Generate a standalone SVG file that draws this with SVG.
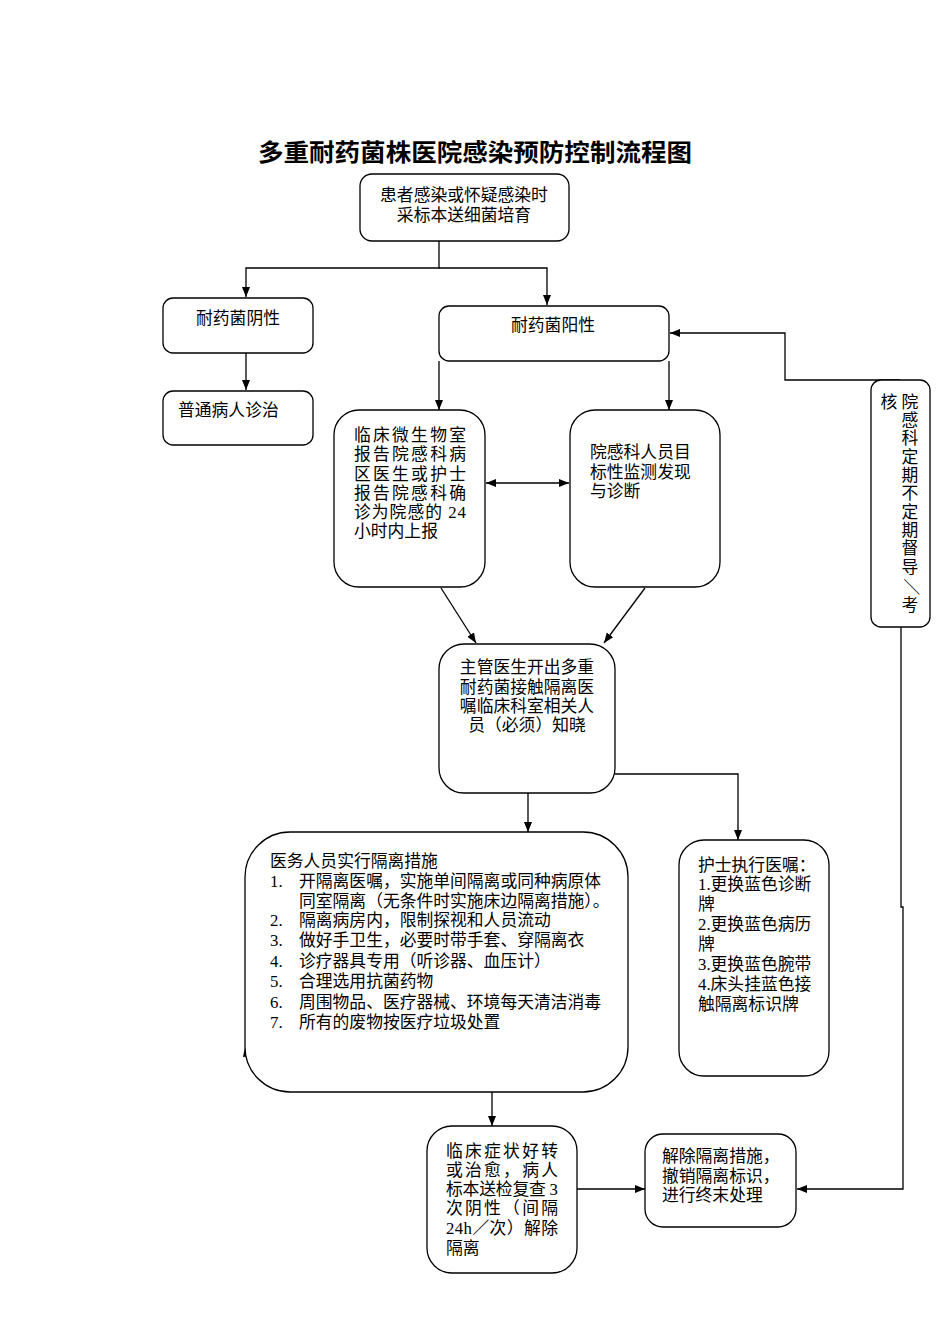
<svg xmlns="http://www.w3.org/2000/svg" width="950" height="1344" viewBox="0 0 950 1344">
<defs>
<marker id="ah" viewBox="0 0 10 10" refX="10" refY="5" markerWidth="10" markerHeight="10" markerUnits="userSpaceOnUse" orient="auto-start-reverse">
<path d="M0,1 L10,5 L0,9 Z" fill="#000"/>
</marker>
</defs>
<style>
.box{fill:#fff;stroke:#000;stroke-width:1.3}
.t{font-family:"Liberation Serif","Noto Sans CJK SC",serif;font-size:16.8px;fill:#000}
.c{text-anchor:middle}
.ln{fill:none;stroke:#000;stroke-width:1.3}
.title{font-family:"Noto Sans CJK SC","Liberation Sans",sans-serif;font-size:24px;font-weight:bold;fill:#000}
</style>
<rect width="950" height="1344" fill="#fff"/>
<text class="title" x="258" y="161" textLength="434" lengthAdjust="spacingAndGlyphs">多重耐药菌株医院感染预防控制流程图</text>

<g id="connectors">
<path class="ln" d="M439,241 V268 H246 V297" marker-end="url(#ah)"/>
<path class="ln" d="M439,268 H547 V305" marker-end="url(#ah)"/>
<path class="ln" d="M246,353 V390" marker-end="url(#ah)"/>
<path class="ln" d="M439,361 V410" marker-end="url(#ah)"/>
<path class="ln" d="M669,361 V410" marker-end="url(#ah)"/>
<path class="ln" d="M486,483 H569" marker-start="url(#ah)" marker-end="url(#ah)"/>
<path class="ln" d="M441,588 L476,643" marker-end="url(#ah)"/>
<path class="ln" d="M645,588 L604,643" marker-end="url(#ah)"/>
<path class="ln" d="M615,774 H738 V840" marker-end="url(#ah)"/>
<path class="ln" d="M528,793 V832" marker-end="url(#ah)"/>
<path class="ln" d="M492,1092 V1126" marker-end="url(#ah)"/>
<path class="ln" d="M577,1189 H645" marker-end="url(#ah)"/>
<path class="ln" d="M900,380 H785 V333 H670" marker-end="url(#ah)"/>
<path class="ln" d="M901,627 V907 H903 V1189 H797" marker-end="url(#ah)"/>
<path d="M243,1057 L251,1056 L245,1047 Z" fill="#000"/>
</g>

<g id="n1">
<rect class="box" x="360" y="174" width="209" height="67" rx="12"/>
<text class="t c" x="464" y="201">患者感染或怀疑感染时</text>
<text class="t c" x="464" y="221">采标本送细菌培育</text>
</g>

<g id="n2">
<rect class="box" x="163" y="298" width="150" height="55" rx="10"/>
<text class="t c" x="238" y="324">耐药菌阴性</text>
</g>

<g id="n3">
<rect class="box" x="163" y="391" width="150" height="54" rx="10"/>
<text class="t" x="178" y="416">普通病人诊治</text>
</g>

<g id="n4">
<rect class="box" x="439" y="306" width="230" height="55" rx="10"/>
<text class="t c" x="553" y="331">耐药菌阳性</text>
</g>

<g id="n5">
<rect class="box" x="334" y="410" width="151" height="177" rx="25"/>
<text class="t" x="354" y="441" textLength="112" lengthAdjust="spacing">临床微生物室</text>
<text class="t" x="354" y="460" textLength="112" lengthAdjust="spacing">报告院感科病</text>
<text class="t" x="354" y="480" textLength="112" lengthAdjust="spacing">区医生或护士</text>
<text class="t" x="354" y="499" textLength="112" lengthAdjust="spacing">报告院感科确</text>
<text class="t" x="354" y="518" textLength="112" lengthAdjust="spacing">诊为院感的 24</text>
<text class="t" x="354" y="537">小时内上报</text>
</g>

<g id="n6">
<rect class="box" x="570" y="410" width="150" height="177" rx="25"/>
<text class="t" x="590" y="458">院感科人员目</text>
<text class="t" x="590" y="478">标性监测发现</text>
<text class="t" x="590" y="497">与诊断</text>
</g>

<g id="n7">
<rect class="box" x="439" y="644" width="176" height="149" rx="25"/>
<text class="t c" x="527" y="673">主管医生开出多重</text>
<text class="t c" x="527" y="693">耐药菌接触隔离医</text>
<text class="t c" x="527" y="712">嘱临床科室相关人</text>
<text class="t c" x="527" y="731">员（必须）知晓</text>
</g>

<g id="n8">
<rect class="box" x="245" y="832" width="383" height="260" rx="45"/>
<text class="t" x="270" y="867">医务人员实行隔离措施</text>
<text class="t" x="270" y="887">1.</text><text class="t" x="299" y="887">开隔离医嘱，实施单间隔离或同种病原体</text>
<text class="t" x="299" y="907">同室隔离（无条件时实施床边隔离措施）。</text>
<text class="t" x="270" y="926">2.</text><text class="t" x="299" y="926">隔离病房内，限制探视和人员流动</text>
<text class="t" x="270" y="946">3.</text><text class="t" x="299" y="946">做好手卫生，必要时带手套、穿隔离衣</text>
<text class="t" x="270" y="967">4.</text><text class="t" x="299" y="967">诊疗器具专用（听诊器、血压计）</text>
<text class="t" x="270" y="987">5.</text><text class="t" x="299" y="987">合理选用抗菌药物</text>
<text class="t" x="270" y="1008">6.</text><text class="t" x="299" y="1008">周围物品、医疗器械、环境每天清洁消毒</text>
<text class="t" x="270" y="1028">7.</text><text class="t" x="299" y="1028">所有的废物按医疗垃圾处置</text>
</g>

<g id="n9">
<rect class="box" x="679" y="840" width="150" height="236" rx="25"/>
<text class="t" x="698" y="871">护士执行医嘱：</text>
<text class="t" x="698" y="890">1.更换蓝色诊断</text>
<text class="t" x="698" y="910">牌</text>
<text class="t" x="698" y="930">2.更换蓝色病历</text>
<text class="t" x="698" y="950">牌</text>
<text class="t" x="698" y="970">3.更换蓝色腕带</text>
<text class="t" x="698" y="990">4.床头挂蓝色接</text>
<text class="t" x="698" y="1010">触隔离标识牌</text>
</g>

<g id="n10">
<rect class="box" x="427" y="1126" width="150" height="147" rx="25"/>
<text class="t" x="446" y="1157" textLength="112" lengthAdjust="spacing">临床症状好转</text>
<text class="t" x="446" y="1176" textLength="112" lengthAdjust="spacing">或治愈，病人</text>
<text class="t" x="446" y="1195" textLength="112" lengthAdjust="spacing">标本送检复查 3</text>
<text class="t" x="446" y="1214" textLength="112" lengthAdjust="spacing">次阴性（间隔</text>
<text class="t" x="446" y="1234" textLength="112" lengthAdjust="spacing">24h／次）解除</text>
<text class="t" x="446" y="1254">隔离</text>
</g>

<g id="n11">
<rect class="box" x="645" y="1134" width="151" height="93" rx="18"/>
<text class="t" x="662" y="1162">解除隔离措施，</text>
<text class="t" x="662" y="1182">撤销隔离标识，</text>
<text class="t" x="662" y="1201">进行终末处理</text>
</g>

<g id="n12">
<rect class="box" x="871" y="380" width="59" height="247" rx="10"/>
<text class="t c" x="889" y="408">核</text>
<text class="t c" x="910" y="408">院</text>
<text class="t c" x="910" y="426">感</text>
<text class="t c" x="910" y="444">科</text>
<text class="t c" x="910" y="463">定</text>
<text class="t c" x="910" y="481">期</text>
<text class="t c" x="910" y="499">不</text>
<text class="t c" x="910" y="518">定</text>
<text class="t c" x="910" y="536">期</text>
<text class="t c" x="910" y="554">督</text>
<text class="t c" x="910" y="573">导</text>
<text class="t c" transform="translate(910,587) rotate(90)" x="0" y="5">／</text>
<text class="t c" x="910" y="611">考</text>
</g>
</svg>
